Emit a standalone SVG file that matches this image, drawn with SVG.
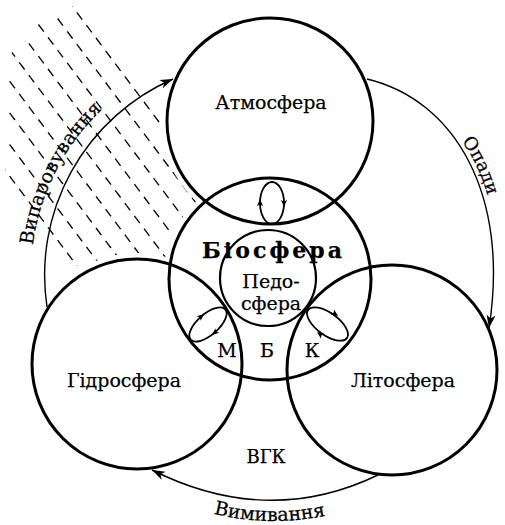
<svg xmlns="http://www.w3.org/2000/svg" xmlns:xlink="http://www.w3.org/1999/xlink" width="505" height="525" viewBox="0 0 505 525">
<style>
.big{fill:none;stroke:#000;stroke-width:3}
.mid{fill:none;stroke:#000;stroke-width:2.2}
.cyc{fill:none;stroke:#000;stroke-width:1.8}
.con{fill:none;stroke:#000;stroke-width:1.4}
.dash{stroke:#000;stroke-width:1.3;stroke-dasharray:9 7}
text{font-family:"DejaVu Serif","Liberation Serif",serif;font-size:19px;fill:#000;stroke:#000;stroke-width:0.25}
.lbl{text-anchor:middle}
</style>
<defs>
<marker id="arr" markerUnits="userSpaceOnUse" markerWidth="15" markerHeight="10" refX="13" refY="4.5" orient="auto">
<path d="M0,0 L13,4.5 L0,9 L3.5,4.5 z" fill="#000"/>
</marker>
<path id="ah" d="M0,0 L-7,-3 L-5.5,0 L-7,3 z" fill="#000"/>
<mask id="dm" maskUnits="userSpaceOnUse" x="0" y="0" width="505" height="525">
<polygon points="80,3 40,22 7,58 5,205 72,266 215,256 215,130 120,0" fill="#fff"/>
<circle cx="270" cy="121" r="109" fill="#000"/>
<circle cx="270" cy="279" r="107" fill="#000"/>
<circle cx="137" cy="364" r="111" fill="#000"/>
</mask>
<path id="tpEvap" d="M33.2,306.7 A228,228 0 0 1 181,60.7"/>
<path id="tpOpady" d="M442,120 Q482,154 494,224"/>
<path id="tpVym" d="M150,490 Q270,550 390,494"/>
</defs>
<g id="rain" mask="url(#dm)">
<line class="dash" x1="0" y1="-90" x2="240" y2="230"/>
<line class="dash" x1="0" y1="-58.3" x2="240" y2="261.7"/>
<line class="dash" x1="0" y1="-26.7" x2="240" y2="293.3"/>
<line class="dash" x1="0" y1="5" x2="240" y2="325"/>
<line class="dash" x1="0" y1="36.7" x2="240" y2="356.7"/>
<line class="dash" x1="0" y1="68.3" x2="240" y2="388.3"/>
<line class="dash" x1="0" y1="100" x2="240" y2="420"/>
<line class="dash" x1="0" y1="131.7" x2="240" y2="451.7"/>
<line class="dash" x1="0" y1="163.3" x2="240" y2="483.3"/>
</g>
<g id="atmosphere">
<circle class="big" cx="270" cy="121" r="103"/>
<text class="lbl" x="271" y="109">Атмосфера</text>
</g>
<g id="biosphere">
<circle class="big" cx="270" cy="279" r="101"/>
<text x="202" y="258" textLength="140" lengthAdjust="spacing" style="font-weight:bold;font-size:22px">Біосфера</text>
</g>
<g id="pedosphere">
<circle class="mid" cx="268" cy="278" r="48"/>
<text class="lbl" x="271" y="288">Педо-</text>
<text class="lbl" x="271" y="310">сфера</text>
</g>
<g id="hydrosphere">
<circle class="big" cx="137" cy="364" r="105"/>
<text class="lbl" x="124" y="387">Гідросфера</text>
</g>
<g id="lithosphere">
<circle class="big" cx="392" cy="370" r="105"/>
<text class="lbl" x="403" y="387">Літосфера</text>
</g>
<g id="zone-labels">
<text class="lbl" x="227" y="357">М</text>
<text class="lbl" x="267" y="357">Б</text>
<text class="lbl" x="312" y="357">К</text>
<text class="lbl" x="266" y="463" style="font-size:18px">ВГК</text>
</g>
<g id="cycles">
<ellipse class="cyc" cx="272" cy="203" rx="12" ry="21"/>
<use xlink:href="#ah" transform="translate(260,199) rotate(-90)"/>
<use xlink:href="#ah" transform="translate(284,207) rotate(90)"/>
<ellipse class="cyc" cx="208" cy="324.5" rx="23" ry="10.5" transform="rotate(-41 208 324.5)"/>
<use xlink:href="#ah" transform="translate(204,314) rotate(-41)"/>
<use xlink:href="#ah" transform="translate(212,335) rotate(139)"/>
<ellipse class="cyc" cx="327.5" cy="324" rx="24" ry="11" transform="rotate(36 327.5 324)"/>
<use xlink:href="#ah" transform="translate(338,316) rotate(36)"/>
<use xlink:href="#ah" transform="translate(317,332) rotate(216)"/>
</g>
<g id="connectors">
<path class="con" d="M47,307 A214,214 0 0 1 173,79" marker-end="url(#arr)"/>
<path class="con" d="M367,79 C455,100 510,195 489,328" marker-end="url(#arr)"/>
<path class="con" d="M378,475 Q268,528 152,470" marker-end="url(#arr)"/>
<text><textPath xlink:href="#tpEvap" startOffset="44.9%" text-anchor="middle">Випаровування</textPath></text>
<text style="font-size:18px"><textPath xlink:href="#tpOpady" startOffset="50%" text-anchor="middle">Опади</textPath></text>
<text><textPath xlink:href="#tpVym" startOffset="50%" text-anchor="middle">Вимивання</textPath></text>
</g>
</svg>
